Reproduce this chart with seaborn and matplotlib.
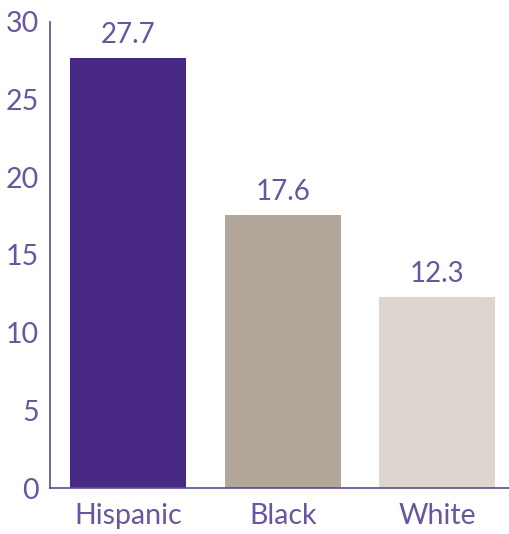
import matplotlib
matplotlib.use("Agg")
import matplotlib.pyplot as plt
import seaborn as sns
import pandas as pd

groups = ["Hispanic", "Black", "White"]
values = [27.7, 17.6, 12.3]
bar_colors = ["#482a84", "#b3a69a", "#ddd6d0"]
y_ticks = [0, 5, 10, 15, 20, 25, 30]

text_color = "#6a559f"
axis_color = "#5a4a96"

sns.set_theme(style="white")
plt.rcParams["font.family"] = ["Lato", "DejaVu Sans"]

df = pd.DataFrame({"group": groups, "value": values})

fig = plt.figure(figsize=(5.10, 5.34), dpi=100)
ax = fig.add_axes([0.098, 0.086, 0.902, 0.873])

sns.barplot(data=df, x="group", y="value", hue="group", palette=bar_colors,
            width=0.75, saturation=1, legend=False, linewidth=0, ax=ax)

for patch, v in zip(ax.patches, values):
    ax.annotate(f"{v:.1f}", (patch.get_x() + patch.get_width() / 2, v),
                xytext=(0, 7), textcoords="offset points",
                ha="center", va="bottom", fontsize=20, color=text_color)

ax.set_ylim(0, 30)
ax.set_xlim(-0.505, 2.47)
ax.set_yticks(y_ticks)
ax.set_yticklabels([str(t) for t in y_ticks])
ax.set_xlabel("")
ax.set_ylabel("")
ax.tick_params(axis="both", length=0, labelsize=20.5, labelcolor=text_color)
ax.tick_params(axis="y", pad=8)
ax.tick_params(axis="x", pad=11)

for side in ["top", "right"]:
    ax.spines[side].set_visible(False)
for side in ["left", "bottom"]:
    ax.spines[side].set_color(axis_color)
    ax.spines[side].set_linewidth(1.2)

fig.savefig("out.png", dpi=100)
